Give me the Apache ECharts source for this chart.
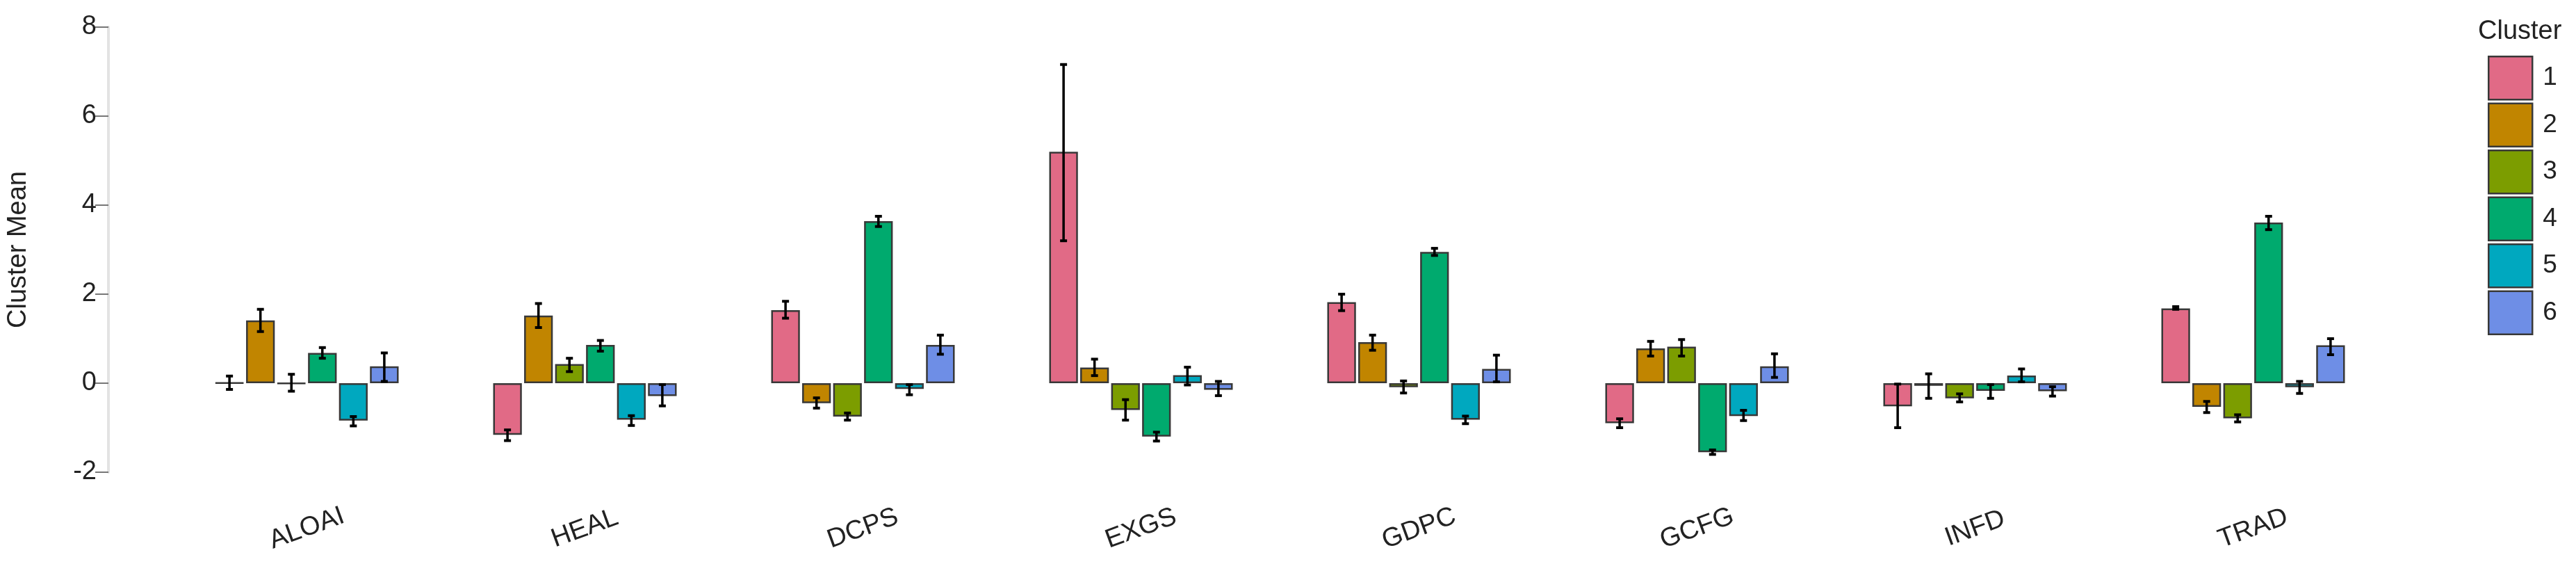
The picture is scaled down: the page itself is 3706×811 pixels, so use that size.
<!DOCTYPE html>
<html>
<head>
<meta charset="utf-8">
<script src="https://cdn.jsdelivr.net/npm/echarts@6/dist/echarts.min.js"></script>
<style>
html,body{margin:0;padding:0;background:#fff;}
#c{width:3706px;height:811px;}
</style>
</head>
<body>
<div id="c"></div>
<script>
const categories = ['ALOAI','HEAL','DCPS','EXGS','GDPC','GCFG','INFD','TRAD'];
const clusters = ['1','2','3','4','5','6'];
const colors = ['#E16A86','#C18500','#7C9D00','#00AA6E','#00A8BF','#6E8EE6'];

const mean1 = [0.01, -1.16, 1.64, 5.20, 1.82, -0.90, -0.52, 1.68];
const mean2 = [1.41, 1.52, -0.45, 0.35, 0.92, 0.78, -0.06, -0.53];
const mean3 = [-0.01, 0.43, -0.75, -0.60, -0.09, 0.82, -0.34, -0.79];
const mean4 = [0.68, 0.86, 3.64, -1.20, 2.95, -1.55, -0.17, 3.61];
const mean5 = [-0.84, -0.82, -0.13, 0.18, -0.82, -0.74, 0.17, -0.09];
const mean6 = [0.38, -0.29, 0.86, -0.15, 0.32, 0.38, -0.18, 0.85];

const low1 = [-0.14, -1.29, 1.46, 3.20, 1.63, -1.00, -1.00, 1.66];
const high1 = [0.16, -1.05, 1.84, 7.16, 2.00, -0.80, -0.02, 1.72];
const low2 = [1.16, 1.25, -0.56, 0.17, 0.74, 0.61, -0.34, -0.66];
const high2 = [1.66, 1.79, -0.33, 0.54, 1.08, 0.94, 0.21, -0.41];
const low3 = [-0.18, 0.26, -0.83, -0.83, -0.22, 0.61, -0.42, -0.87];
const high3 = [0.20, 0.56, -0.67, -0.37, 0.05, 0.98, -0.24, -0.71];
const low4 = [0.56, 0.72, 3.52, -1.30, 2.87, -1.60, -0.34, 3.45];
const high4 = [0.80, 0.96, 3.75, -1.10, 3.03, -1.50, -0.03, 3.75];
const low5 = [-0.96, -0.95, -0.26, -0.04, -0.91, -0.84, 0.03, -0.23];
const high5 = [-0.75, -0.73, -0.03, 0.36, -0.74, -0.61, 0.32, 0.04];
const low6 = [0.04, -0.51, 0.65, -0.28, 0.03, 0.13, -0.29, 0.64];
const high6 = [0.68, -0.03, 1.08, 0.04, 0.63, 0.66, -0.08, 1.00];

const yTicks = [-2, 0, 2, 4, 6, 8];

const means = [mean1, mean2, mean3, mean4, mean5, mean6];
const lows = [low1, low2, low3, low4, low5, low6];
const highs = [high1, high2, high3, high4, high5, high6];

const CAT_GAP = 0.34, BAR_GAP = 0.08, N = clusters.length;
const FONT = "'Liberation Sans', Arial, sans-serif";

const series = [];
clusters.forEach((c, k) => {
  series.push({
    name: c,
    type: 'bar',
    data: means[k],
    barGap: (BAR_GAP*100)+'%',
    barCategoryGap: (CAT_GAP*100)+'%',
    itemStyle: {color: colors[k], borderColor: '#383838', borderWidth: 2.5},
    emphasis: {disabled: true},
    z: 2
  });
});
clusters.forEach((c, k) => {
  series.push({
    name: 'err' + c,
    type: 'custom',
    z: 5,
    data: categories.map((cat, i) => [i, lows[k][i], highs[k][i]]),
    renderItem: function (params, api) {
      const ci = api.value(0);
      const band = api.size([1, 0])[0];
      const group = band * (1 - CAT_GAP);
      const bw = group / (N + (N - 1) * BAR_GAP);
      const cx = api.coord([ci, 0])[0] - group / 2 + k * bw * (1 + BAR_GAP) + bw / 2;
      const yl = api.coord([ci, api.value(1)])[1];
      const yh = api.coord([ci, api.value(2)])[1];
      const cap = 5;
      const st = {stroke: '#000', lineWidth: 3.5};
      const capSt = {stroke: '#000', lineWidth: 4};
      return {
        type: 'group',
        children: [
          {type: 'line', shape: {x1: cx, y1: yl, x2: cx, y2: yh}, style: st},
          {type: 'line', shape: {x1: cx - cap, y1: yl, x2: cx + cap, y2: yl}, style: capSt},
          {type: 'line', shape: {x1: cx - cap, y1: yh, x2: cx + cap, y2: yh}, style: capSt}
        ]
      };
    }
  });
});

const chart = echarts.init(document.getElementById('c'), null, {renderer: 'canvas'});
chart.setOption({
  animation: false,
  backgroundColor: '#fff',
  textStyle: {fontFamily: FONT},
  title: {
    text: 'Cluster',
    left: 3560, top: 22,
    textStyle: {fontSize: 38, fontWeight: 'normal', color: '#222', fontFamily: FONT}
  },
  legend: {
    data: clusters,
    orient: 'vertical',
    left: 3574, top: 75,
    itemWidth: 63, itemHeight: 62, itemGap: 3,
    icon: 'rect',
    itemStyle: {borderColor: '#383838', borderWidth: 2.5},
    textStyle: {fontSize: 37, color: '#222', fontFamily: FONT, padding: [0, 0, 0, 10]},
    selectedMode: false
  },
  grid: {left: 233.5, right: 264.5, top: 39, bottom: 132, containLabel: false},
  xAxis: {
    type: 'category',
    data: categories,
    axisLine: {show: false},
    axisTick: {show: false},
    axisLabel: {
      rotate: 20, align: 'center', verticalAlign: 'middle', margin: 81,
      fontSize: 38, color: '#222', fontFamily: FONT
    }
  },
  yAxis: {
    type: 'value',
    min: yTicks[0], max: yTicks[yTicks.length - 1], interval: 2,
    offset: 85.5,
    name: 'Cluster Mean',
    nameLocation: 'middle',
    nameGap: 110,
    nameTextStyle: {fontSize: 38, color: '#222', fontFamily: FONT},
    axisLine: {show: true, lineStyle: {color: '#e3e3e3', width: 4}},
    axisTick: {show: true, length: 19, lineStyle: {color: '#777', width: 2}},
    axisLabel: {fontSize: 38, color: '#222', margin: 17, fontFamily: FONT},
    splitLine: {show: false}
  },
  series: series
});
</script>
</body>
</html>
